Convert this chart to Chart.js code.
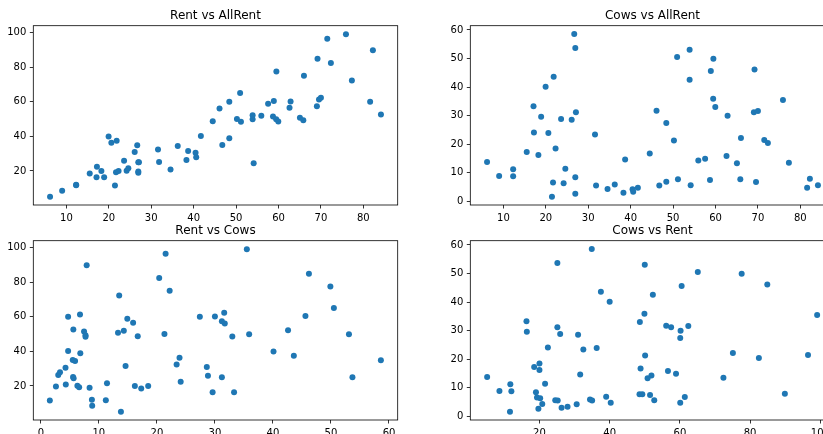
<!DOCTYPE html>
<html><head><meta charset="utf-8">
<script src="https://cdn.jsdelivr.net/npm/chart.js@4"></script>
<style>
html,body{margin:0;padding:0;width:823px;height:434px;overflow:hidden;background:#fff;position:relative}
canvas{position:absolute}
</style></head><body>
<canvas id="c1" width="410" height="232" style="left:0px;top:0px;width:410px;height:232px"></canvas>
<canvas id="c2" width="410" height="232" style="left:437px;top:0px;width:410px;height:232px"></canvas>
<canvas id="c3" width="410" height="232" style="left:0px;top:215px;width:410px;height:232px"></canvas>
<canvas id="c4" width="410" height="232" style="left:437px;top:215px;width:410px;height:232px"></canvas>
<script>
// One entry per county: AllRent, Rent, Cows
const allRent = [6.15,9.0,12.3,12.3,15.5,17.1,17.2,18.25,18.9,19.95,
  20.6,21.45,21.7,21.85,22.3,23.6,24.2,24.6,26.1,26.7,
  26.95,27.1,26.95,26.95,31.6,31.85,34.55,36.25,38.3,38.7,
  40.45,40.6,41.7,44.5,46.1,46.75,48.4,48.4,50.2,50.95,
  51.15,53.9,53.9,54.15,55.95,57.55,58.7,58.9,59.5,59.45,
  59.95,62.6,62.85,65.05,65.85,66.0,69.05,69.2,69.55,70.0,
  71.5,72.35,75.9,77.3,81.6,82.25,84.15];
const rent = [5.1,8.6,11.7,12.0,18.5,16.3,22.4,20.0,16.4,40.0,
  36.3,11.6,19.3,37.5,20.0,25.9,20.2,21.6,31.0,34.9,
  25.1,25.1,19.0,19.7,32.5,25.2,20.8,34.4,26.3,31.6,
  30.6,28.0,40.3,48.8,56.1,35.0,60.1,39.0,50.1,65.1,
  48.5,50.0,52.3,24.5,51.9,58.9,51.5,60.5,77.6,49.9,
  48.6,56.6,60.2,50.8,49.3,75.1,57.5,84.9,61.4,62.4,
  96.5,82.5,99.1,72.4,60.1,89.9,52.7];
const cows = [13.8,8.85,11.2,8.8,17.3,33.3,24.1,16.2,29.6,40.1,
  23.9,1.55,6.6,43.6,18.5,28.8,6.3,11.4,28.6,58.6,
  53.7,31.2,8.4,2.6,23.4,5.55,4.3,5.9,3.0,14.6,
  4.25,3.3,4.7,16.7,31.7,5.5,27.4,6.8,21.3,50.5,
  7.7,53.1,42.6,5.65,14.3,14.9,7.45,45.6,49.9,35.9,
  33.0,15.9,30.0,13.3,7.7,22.2,31.2,46.2,6.75,31.6,
  21.5,20.4,35.5,13.5,4.7,7.9,5.6];

// Axis limits and tick labels
const allRentLim = [2.2, 88.1];
const rentLim = [0.3, 104.1];
const cowsLim = [-1.3, 61.5];
const allRentTicks = [10,20,30,40,50,60,70,80];
const rentTicksY = [20,40,60,80,100];
const rentTicksX = [20,40,60,80,100];
const cowsTicksY = [0,10,20,30,40,50,60];
const cowsTicksX = [0,10,20,30,40,50,60];

const FONT = "'DejaVu Sans', sans-serif";

const frame = {
  id: 'frame',
  afterDraw(chart) {
    const a = chart.chartArea, ctx = chart.ctx;
    ctx.save();
    ctx.strokeStyle = '#000';
    ctx.lineWidth = 0.8;
    ctx.strokeRect(a.left, a.top, a.right - a.left, a.bottom - a.top);
    ctx.restore();
  }
};

function axis(lim, ticks, isX) {
  return {
    type: 'linear', min: lim[0], max: lim[1],
    afterBuildTicks: s => { s.ticks = ticks.map(v => ({ value: v })); },
    afterFit: s => { if (isX) s.height = 24; else s.width = 30; },
    grid: { display: true, drawOnChartArea: false, drawTicks: true, tickLength: 3.5, color: '#000', lineWidth: 0.8 },
    border: { display: false },
    ticks: { padding: 3.5, color: '#000', font: { family: FONT, size: 10 }, maxRotation: 0, autoSkip: false, callback: v => String(v) }
  };
}

function makeChart(id, title, xs, ys, xLim, xTicks, yLim, yTicks) {
  new Chart(document.getElementById(id), {
    type: 'scatter',
    data: { datasets: [{
      data: xs.map((x, i) => ({ x: x, y: ys[i] })),
      backgroundColor: '#1f77b4', borderWidth: 0, pointRadius: 3, pointHoverRadius: 3
    }] },
    options: {
      responsive: false, animation: false, events: [],
      layout: { padding: { left: 3.3, top: 8.5, right: 12.3, bottom: 3 } },
      plugins: {
        legend: { display: false }, tooltip: { enabled: false },
        title: { display: true, fullSize: false, text: title, color: '#000',
          font: { family: FONT, size: 12, weight: 'normal', lineHeight: 1.2 },
          padding: { top: 0, bottom: 2.8 } }
      },
      scales: { x: axis(xLim, xTicks, true), y: axis(yLim, yTicks, false) }
    },
    plugins: [frame]
  });
}

makeChart('c1', 'Rent vs AllRent', allRent, rent, allRentLim, allRentTicks, rentLim, rentTicksY);
makeChart('c2', 'Cows vs AllRent', allRent, cows, allRentLim, allRentTicks, cowsLim, cowsTicksY);
makeChart('c3', 'Rent vs Cows', cows, rent, cowsLim, cowsTicksX, rentLim, rentTicksY);
makeChart('c4', 'Cows vs Rent', rent, cows, rentLim, rentTicksX, cowsLim, cowsTicksY);
</script>
</body></html>
